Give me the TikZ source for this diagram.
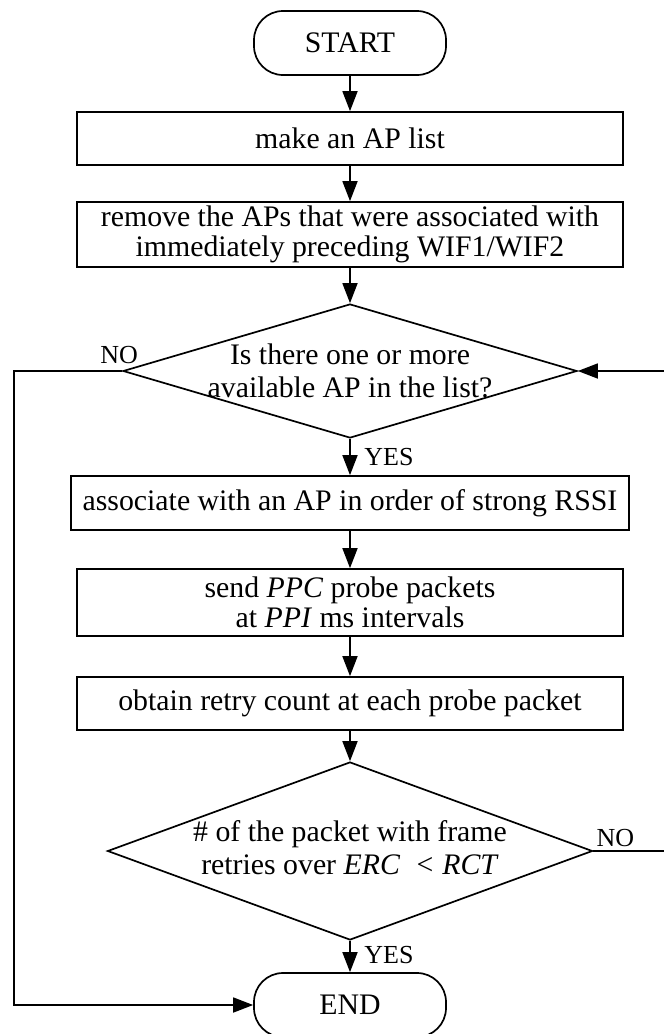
\documentclass[tikz,border=0pt]{standalone}
\usepackage{fontspec}
\setmainfont{Liberation Serif}
\usetikzlibrary{shapes.geometric,arrows.meta,calc}

\tikzset{
  every node/.style={font=\fontsize{29.8}{30.5}\selectfont},
  flowline/.style={line width=1.7pt, line join=miter},
  arr/.style={flowline, -{Triangle[length=20pt,width=15pt]}},
  procbox/.style={draw, line width=1.7pt, rectangle, inner sep=0pt, align=center},
  terminal/.style={draw, line width=1.7pt, rectangle, rounded corners=29pt,
                   minimum width=192pt, minimum height=64pt, inner sep=0pt},
  decision/.style={draw, line width=1.7pt, diamond, inner sep=0pt},
  dtext/.style={align=center, font=\fontsize{29.8}{33}\selectfont},
  lab/.style={font=\fontsize{26}{27}\selectfont, inner sep=0pt}
}

\begin{document}
\begin{tikzpicture}[x=1pt, y=-1pt]
  \useasboundingbox (0,0) rectangle (664,1034);

  % terminals
  \node[terminal] (start) at (350,43) {START};
  \node[terminal] (endn) at (350,1005) {END};

  % process steps
  \node[procbox, minimum width=546pt, minimum height=53pt] (mk) at (350,138.5) {make an AP list};
  \node[procbox, minimum width=546pt, minimum height=65pt] (rm) at (350,234.5)
    {remove the APs that were associated with\\immediately preceding WIF1/WIF2};
  \node[procbox, minimum width=558pt, minimum height=54pt] (as) at (350,503)
    {associate with an AP in order of strong RSSI};
  \node[procbox, minimum width=546pt, minimum height=67pt] (sd) at (350,602.5)
    {send \textit{PPC} probe packets\\at \textit{PPI} ms intervals};
  \node[procbox, minimum width=546pt, minimum height=53pt] (ob) at (350,703.5)
    {obtain retry count at each probe packet};

  % decisions
  \node[decision, minimum width=454pt, minimum height=134pt] (d1) at (350,371) {};
  \node[dtext] (d1t) at (350,371) {Is there one or more\\available AP in the list?};
  \node[decision, minimum width=485pt, minimum height=178pt] (d2) at (350,851) {};
  \node[dtext] (d2t) at (350,848) {\# of the packet with frame\\retries over \textit{ERC}\hspace{0.55em}<\hspace{0.3em}\textit{RCT}};

  % main flow
  \draw[arr] (start) -- (mk);
  \draw[arr] (mk) -- (rm);
  \draw[arr] (rm) -- (d1);
  \draw[arr] (d1.south) -- (as);
  \draw[arr] (as) -- (sd);
  \draw[arr] (sd) -- (ob);
  \draw[arr] (ob) -- (d2.north);
  \draw[arr] (d2.south) -- (endn);

  % loops
  \draw[arr] (d1.west) -- ++(-108,0) |- (endn.west);
  \draw[arr] (d2.east) -- ++(75,0) |- (d1.east);

  % branch labels
  \node[lab] (y1) at ($(d1.south)+(39,18)$) {YES};
  \node[lab] (y2) at ($(d2.south)+(39,14)$) {YES};
  \node[lab] (n1) at ($(d1.west)+(-3,-16)$) {NO};
  \node[lab] (n2) at ($(d2.east)+(22,-13)$) {NO};
\end{tikzpicture}
\end{document}
